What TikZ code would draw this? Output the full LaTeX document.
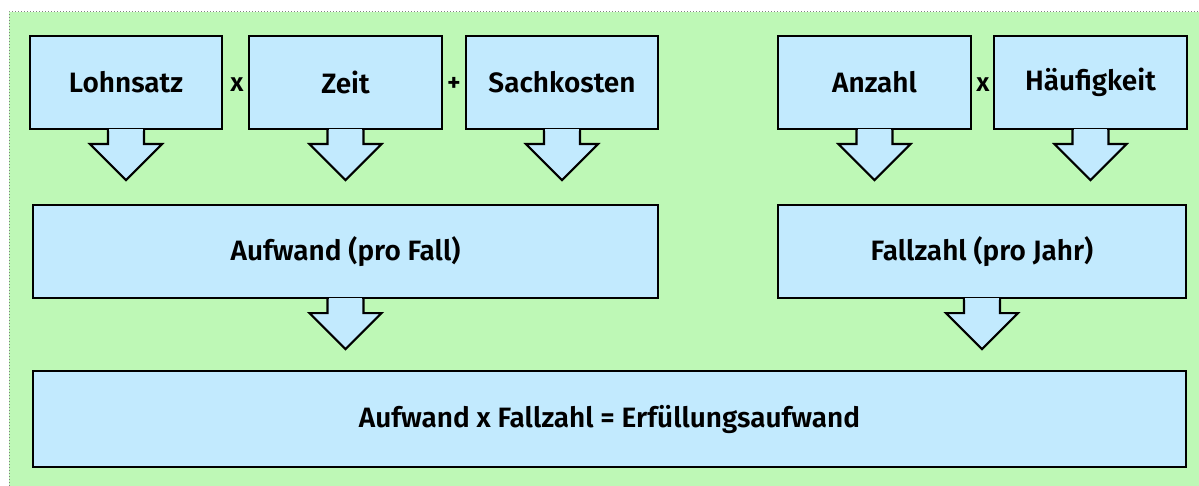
\documentclass[tikz,border=0pt]{standalone}
\usepackage{fontspec}
\setmainfont{Fira Sans}[BoldFont={Fira Sans SemiBold}]
\definecolor{bggreen}{RGB}{190,248,182}
\definecolor{boxblue}{RGB}{194,234,254}
\tikzset{
  box/.style={draw=black, line width=2.2pt, fill=boxblue, inner sep=0pt,
    font=\fontsize{28}{32}\selectfont\bfseries, text=black},
  arrowline/.style={draw=black, fill=boxblue, line width=2.2pt, line join=miter},
  op/.style={font=\fontsize{26}{30}\selectfont\bfseries, inner sep=0pt},
}
\newcommand\calloutarrow[1]{%
  \filldraw[arrowline] ([xshift=-18pt]#1.south) -- ++(0pt,-14pt) -- ++(-18pt,0pt)
    -- ++(36pt,-36pt) -- ++(36pt,36pt) -- ++(-18pt,0pt) -- ++(0pt,14pt);
  \fill[boxblue] ([shift={(-16.8pt,1.3pt)}]#1.south) rectangle ([shift={(16.8pt,-1.3pt)}]#1.south);
}
\begin{document}
\begin{tikzpicture}[x=1pt,y=-1pt]
  \useasboundingbox (0,0) rectangle (1199,486);
  \fill[bggreen] (9,12) rectangle (1199,486);
  \draw[gray, dotted, line width=1pt] (9,486) -- (9,12) -- (1199,12);

  \node[box, minimum width=192pt, minimum height=93pt] (lohn) at (126,82.5) {Lohnsatz};
  \node[box, minimum width=193pt, minimum height=93pt] (zeit) at (345.5,82.5) {Zeit};
  \node[box, minimum width=192pt, minimum height=93pt] (sach) at (562,82.5) {Sachkosten};
  \node[box, minimum width=193pt, minimum height=93pt] (anz) at (874.5,82.5) {Anzahl};
  \node[box, minimum width=193pt, minimum height=93pt] (haeuf) at (1090.5,82.5) {Häufigkeit};

  \node[op] (op1) at (237,85) {x};
  \node[op] (op2) at (454,84) {+};
  \node[op] (op3) at (983,85) {x};

  \node[box, minimum width=625pt, minimum height=93pt] (aufw) at (345.5,251.5) {Aufwand (pro Fall)};
  \node[box, minimum width=408pt, minimum height=93pt] (fall) at (982,251.5) {Fallzahl (pro Jahr)};

  \node[box, minimum width=1153pt, minimum height=96pt] (erf) at (609.5,419) {Aufwand x Fallzahl = Erfüllungsaufwand};

  \calloutarrow{lohn}
  \calloutarrow{zeit}
  \calloutarrow{sach}
  \calloutarrow{anz}
  \calloutarrow{haeuf}
  \calloutarrow{aufw}
  \calloutarrow{fall}
\end{tikzpicture}
\end{document}
